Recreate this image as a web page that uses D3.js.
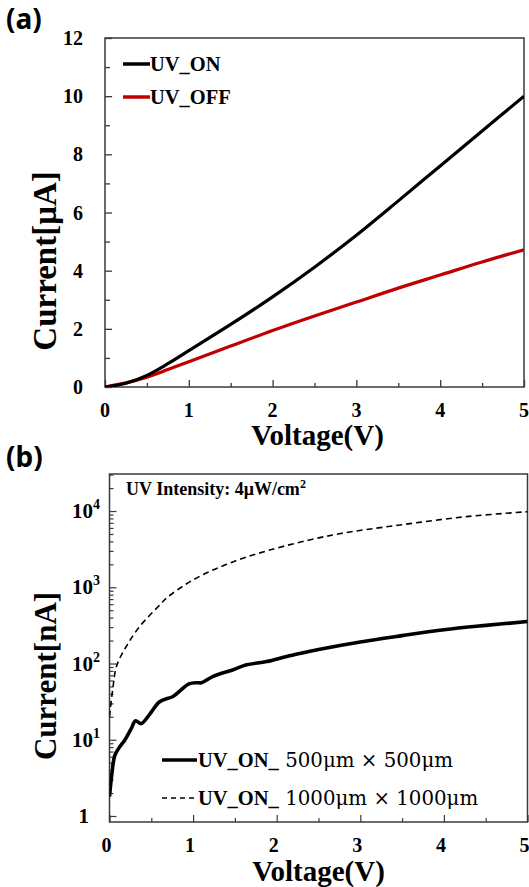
<!DOCTYPE html>
<html><head><meta charset="utf-8">
<script src="https://cdn.jsdelivr.net/npm/d3@7"></script>
<style>
html,body{margin:0;padding:0;background:#fff;}
svg{display:block;}
text{font-family:"Liberation Serif","Times New Roman",serif;}
</style></head><body>
<script>
// ---------- Panel (a) data ----------
const voltA = [0,0.25,0.5,0.75,1,1.5,2,2.5,3,3.5,4,4.5,5];
const uvOnA  = [0,0.13,0.4,0.8,1.25,2.15,3.1,4.12,5.22,6.4,7.6,8.8,10.0];
const uvOffA = [0,0.14,0.34,0.6,0.87,1.41,1.94,2.44,2.92,3.4,3.85,4.3,4.72];
const xTicksA = [0,1,2,3,4,5];
const yTicksA = [0,2,4,6,8,10,12];
const seriesA = ["UV_ON","UV_OFF"];

// ---------- Panel (b) data ----------
const voltSmall = [0,0.03,0.063,0.12,0.18,0.26,0.31,0.38,0.48,0.6,0.76,0.85,0.95,1.05,1.1,1.24,1.48,1.64,1.88,2.12,2.28,2.5,3.0,3.5,4.0,4.5,5.0];
const curSmall  = [1.8,3.7,6.2,8,9.8,14,17.7,16.3,21.5,31.5,37,44.5,54,56,56,68,83,96,106,124,136,153,192,232,277,316,355];
const voltLarge = [0,0.043,0.084,0.2,0.36,0.62,0.68,1.0,1.4,1.88,2.67,3.47,4.27,5.0];
const curLarge  = [20,50,92,167,305,615,720,1250,2000,3000,4850,6550,8450,9800];
const xTicksB = [0,1,2,3,4,5];
const yExpB = [0,1,2,3,4];

const W = 529, H = 887;
const svg = d3.select("body").append("svg").attr("width",W).attr("height",H);
const axisColor = "#3a3a3a";

// ======== Panel (a) ========
const xA = d3.scaleLinear().domain([0,5]).range([105,524]);
const yA = d3.scaleLinear().domain([0,12]).range([387,38]);
const gA = svg.append("g");
gA.append("clipPath").attr("id","clipA").append("rect")
  .attr("x",xA(0)).attr("y",yA(12)).attr("width",xA(5)-xA(0)).attr("height",yA(0)-yA(12));

const minorXA = d3.range(0.5,5,1);
gA.append("g").attr("transform",`translate(0,${yA(0)})`)
  .call(d3.axisBottom(xA).tickValues(xTicksA).tickSize(-7).tickFormat(""))
  .call(g=>g.select(".domain").remove());
gA.append("g").attr("transform",`translate(0,${yA(0)})`)
  .call(d3.axisBottom(xA).tickValues(minorXA).tickSize(-4).tickFormat(""))
  .call(g=>g.select(".domain").remove());
gA.append("g").attr("transform",`translate(${xA(0)},0)`)
  .call(d3.axisLeft(yA).tickValues(yTicksA).tickSize(-7).tickFormat(""))
  .call(g=>g.select(".domain").remove());
gA.append("g").attr("transform",`translate(${xA(0)},0)`)
  .call(d3.axisLeft(yA).tickValues(d3.range(1,12,2)).tickSize(-5).tickFormat(""))
  .call(g=>g.select(".domain").remove());
gA.selectAll(".tick line").attr("stroke",axisColor).attr("stroke-width",1.3);

gA.append("rect").attr("x",xA(0)).attr("y",yA(12)).attr("width",xA(5)-xA(0)).attr("height",yA(0)-yA(12))
  .attr("fill","none").attr("stroke",axisColor).attr("stroke-width",1.5);

gA.selectAll(".xl").data(xTicksA).join("text")
  .attr("x",d=>xA(d)).attr("y",417).attr("text-anchor","middle")
  .attr("font-size",20).attr("font-weight","bold").text(d=>d);
gA.selectAll(".yl").data(yTicksA).join("text")
  .attr("x",83).attr("y",d=>yA(d)+7).attr("text-anchor","end")
  .attr("font-size",20).attr("font-weight","bold").text(d=>d);

const lineA = arr => d3.line().x((d,i)=>xA(voltA[i])).y(d=>yA(d)).curve(d3.curveCatmullRom.alpha(0.5))(arr);
gA.append("path").attr("d",lineA(uvOffA)).attr("fill","none").attr("stroke","#c00000").attr("stroke-width",3.2).attr("clip-path","url(#clipA)");
gA.append("path").attr("d",lineA(uvOnA)).attr("fill","none").attr("stroke","#000").attr("stroke-width",3.2).attr("clip-path","url(#clipA)");

const legA = [{name:seriesA[0],color:"#000",y:64},{name:seriesA[1],color:"#c00000",y:97}];
legA.forEach(l=>{
  gA.append("line").attr("x1",123).attr("x2",150).attr("y1",l.y).attr("y2",l.y).attr("stroke",l.color).attr("stroke-width",3.5);
  gA.append("text").attr("x",150).attr("y",l.y+7).attr("font-size",20.5).attr("font-weight","bold").text(l.name);
});

gA.append("text").attr("x",(xA(0)+xA(5))/2+3).attr("y",445).attr("text-anchor","middle")
  .attr("font-size",29).attr("font-weight","bold").text("Voltage(V)");
gA.append("text").attr("transform","translate(56,261) rotate(-90)").attr("text-anchor","middle")
  .attr("font-size",33).attr("font-weight","bold").text("Current[μA]");
gA.append("text").attr("x",6).attr("y",29)
  .style("font-family","'Noto Sans',sans-serif").attr("font-size",28).attr("font-weight","bold").text("(a)");

// ======== Panel (b) ========
const xB = d3.scaleLinear().domain([0,5]).range([109.5,527.5]);
const yB = d3.scaleLog().domain([0.834,30600]).range([822,474]);
const gB = svg.append("g");
const [yLo,yHi] = yB.domain();
gB.append("clipPath").attr("id","clipB").append("rect")
  .attr("x",xB(0)).attr("y",yB(yHi)).attr("width",xB(5)-xB(0)).attr("height",yB(yLo)-yB(yHi));

gB.append("g").attr("transform",`translate(0,${yB(yLo)})`)
  .call(d3.axisBottom(xB).tickValues(xTicksB).tickSize(-7).tickFormat(""))
  .call(g=>g.select(".domain").remove());
gB.append("g").attr("transform",`translate(0,${yB(yLo)})`)
  .call(d3.axisBottom(xB).tickValues(d3.range(0.5,5,1)).tickSize(-4).tickFormat(""))
  .call(g=>g.select(".domain").remove());
const majorY = yExpB.map(e=>Math.pow(10,e));
const minorY = [];
for (let e=0;e<=4;e++) for (let m=2;m<=9;m++){ const v=m*Math.pow(10,e); if (v<=yHi) minorY.push(v); }
gB.append("g").attr("transform",`translate(${xB(0)},0)`)
  .call(d3.axisLeft(yB).tickValues(majorY).tickSize(-7).tickFormat(""))
  .call(g=>g.select(".domain").remove());
gB.append("g").attr("transform",`translate(${xB(0)},0)`)
  .call(d3.axisLeft(yB).tickValues(minorY).tickSize(-4).tickFormat(""))
  .call(g=>g.select(".domain").remove());
gB.selectAll(".tick line").attr("stroke",axisColor).attr("stroke-width",1.2);

gB.append("rect").attr("x",xB(0)).attr("y",yB(yHi)).attr("width",xB(5)-xB(0)).attr("height",yB(yLo)-yB(yHi))
  .attr("fill","none").attr("stroke",axisColor).attr("stroke-width",1.5);

gB.selectAll(".xl").data(xTicksB).join("text")
  .attr("x",d=>xB(d)-3).attr("y",852).attr("text-anchor","middle")
  .attr("font-size",20).attr("font-weight","bold").text(d=>d);
yExpB.forEach(e=>{
  const y = yB(Math.pow(10,e));
  if (e===0){
    gB.append("text").attr("x",89).attr("y",y+7).attr("text-anchor","end")
      .attr("font-size",21).attr("font-weight","bold").text("1");
  } else {
    const t = gB.append("text").attr("x",100).attr("y",y+7).attr("text-anchor","end")
      .attr("font-size",21).attr("font-weight","bold");
    t.append("tspan").text("10");
    t.append("tspan").attr("dy",-9).attr("font-size",14).text(e);
  }
});

const lineB = (xs,ys) => d3.line().x((d,i)=>xB(xs[i])).y(d=>yB(d)).curve(d3.curveCatmullRom.alpha(0.5))(ys);
gB.append("path").attr("d",lineB(voltLarge,curLarge)).attr("fill","none").attr("stroke","#000")
  .attr("stroke-width",1.6).attr("stroke-dasharray","6,4").attr("clip-path","url(#clipB)");
gB.append("path").attr("d",lineB(voltSmall,curSmall)).attr("fill","none").attr("stroke","#000")
  .attr("stroke-width",3.6).attr("stroke-linejoin","round").attr("clip-path","url(#clipB)");

const ann = gB.append("text").attr("x",126).attr("y",495).attr("font-size",18).attr("font-weight","bold");
ann.append("tspan").text("UV Intensity: 4μW/cm");
ann.append("tspan").attr("dy",-7).attr("font-size",12).text("2");

const legB = [
  {label:" 500μm  × 500μm", y:760, w:3.6, dash:null},
  {label:" 1000μm  × 1000μm", y:798, w:1.6, dash:"5,4"}
];
legB.forEach(l=>{
  const ln = gB.append("line").attr("x1",162).attr("x2",197).attr("y1",l.y).attr("y2",l.y)
    .attr("stroke","#000").attr("stroke-width",l.w);
  if (l.dash) ln.attr("stroke-dasharray",l.dash);
  const t = gB.append("text").attr("x",198).attr("y",l.y+7).attr("font-size",20.5);
  t.append("tspan").attr("font-weight","bold").text("UV_ON_");
  t.append("tspan").style("font-family","'DejaVu Serif',serif").attr("font-size",19.8).text(l.label);
});

gB.append("text").attr("x",(xB(0)+xB(5))/2).attr("y",881).attr("text-anchor","middle")
  .attr("font-size",29).attr("font-weight","bold").text("Voltage(V)");
gB.append("text").attr("transform","translate(56,676) rotate(-90)").attr("text-anchor","middle")
  .attr("font-size",31).attr("font-weight","bold").text("Current[nA]");
gB.append("text").attr("x",6).attr("y",467)
  .style("font-family","'Noto Sans',sans-serif").attr("font-size",28).attr("font-weight","bold").text("(b)");
</script>
</body></html>
